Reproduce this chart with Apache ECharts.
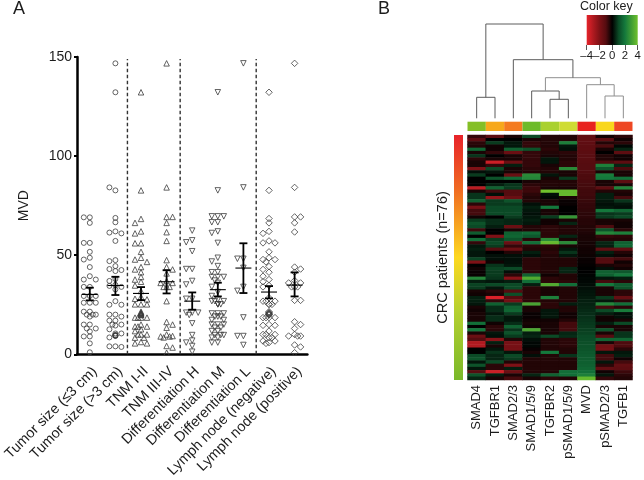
<!DOCTYPE html>
<html>
<head>
<meta charset="utf-8">
<style>html,body{margin:0;padding:0;background:#fff}#c{width:644px;height:480px}</style>
<script src="https://cdn.jsdelivr.net/npm/echarts@6/dist/echarts.min.js"></script>
</head>
<body>
<div id="c"></div>
<script>
const groupLabels = ['Tumor size (≤3 cm)','Tumor size (>3 cm)','TNM I-II','TNM III-IV','Differentiation H','Differentiation M','Differentiation L','Lymph node (negative)','Lymph node (positive)'];
const tumorSmall = [69.1,69.1,66.3,56.2,56.2,51.7,48.7,47.8,44,39.4,37.7,37.7,34,34,29.4,29.4,29.4,26,26,26,21.5,21.5,20,20,20,19,15,15,13,13,11.5,9,9,5.5,1];
const tumorLarge = [146.8,132.2,82.7,84.2,68.8,66.6,62,61.4,61,57.2,47.5,47,44.5,43,42.5,42,38,37,35,34.5,34,32.7,26.8,25,25,20,20,19,17,17,15,15,14.5,12.6,10.5,10.5,8.5,4,4,3.7];
const tnmEarly = [132.2,82.7,68.3,66.3,62,61,56,56,51.7,48.7,47.8,46.6,44,42.8,41.4,39,37.7,36.6,34.7,31.9,29,28,27.7,25.2,25.2,25.2,18.5,18.5,18.5,18.5,15,14,14,14,12.6,11.7,10,10,10,8.4,8.4,6.2,5.5,5.5];
const tnmLate = [146.8,84.2,69.3,69.3,66.3,61.6,57.2,47.5,44,42.8,40.8,37,36,36,34,34,34,26.8,16.3,15,13.4,10,9.2,9,9,8.5,4.2,3.4,0.8];
const diffHigh = [62.4,57.5,56.5,52,43,43,37,35.2,28,28,21,21,21,19.8,15.6,9.7,6.9,5.9,4.2,1.3];
const diffMid = [132.2,82.7,69.6,69.6,69.6,66.6,66.6,62,61.2,56.2,48.7,46.8,44.5,41.4,41.4,39,39,39,37.2,36,34,31.4,29.4,27.5,26.8,26.8,26.8,25.2,25.2,25.2,25.2,20.6,20.6,20.6,19,19,19,17.3,17.3,15,15,15,13.4,13.4,11.7,11.7,9.7,9.7,9.7,8.4,8.4,5.9,5.9];
const diffLow = [146.8,84.2,48.2,48.2,43.6,34,32,18.6,9.2,9.2,4.7];
const nodeNeg = [132.2,82.7,68.5,66.3,62,61,57.2,56.2,56.2,51.7,48.7,47.8,47.8,46.6,44.3,42.8,41.4,39.4,37.7,36.6,34.7,34,28.5,26.8,26.8,26.8,25.2,25.2,25.2,18.5,18.5,18.5,18.5,15,14.6,14.6,11.7,10,10,10,8.4,8.4,6.7,6.7,5.9,5.5];
const nodePos = [146.8,84.2,69.3,69.3,66.3,61.7,44,43,41.4,37.2,36,36,34,34,34,27.2,27.2,16.4,15,13,10,9.2,9.2,9.2,4.7,3.7,0.8];
const tiedValues = [[],[9.5,9.5,9.8,9.2,9.4],[21.5,21,20.8,20.5,20.2,20,19.8],[],[],[],[],[21.5,21,20.8,20.5,20.2,20,19.8],[]];
const meanValues = [30.2,34.7,30.7,36.6,26.8,32.6,43.5,31.4,34.9];
const errLow = [27.2,29.9,27.3,30.7,22.5,29.2,30.9,28.2,29.2];
const errHigh = [33.6,39.1,33.9,42.4,31.2,36.1,56,34.4,41.3];
const dividers = [1.47,3.53,6.5];

const markers = ['circle','circle','triangle','triangle','triangle','triangle','triangle','diamond','diamond'];
const markerTurn = [0,0,0,0,180,180,180,0,0];
const swarmSide = [-1,-1,-1,1,-1,-1,-1,-1,1];

const geneLabels = ['SMAD4','TGFBR1','SMAD2/3','SMAD1/5/9','TGFBR2','pSMAD1/5/9','MVD','pSMAD2/3','TGFB1'];
const geneBarColors = ['#84bf26','#f7a81b','#f47b20','#6dbb2a','#a9d12f','#cfdc33','#e8231f','#f9d71c','#ee4723'];
const SMAD4 = [-.6,-1.2,-.5,-.4,1.6,-.3,.7,-.5,-.3,-.3,-2,.2,.8,0,0,0,-3.2,-.3,.7,.7,1.5,-.5,-1.8,-.8,-.8,-.2,.8,1.2,1,-.7,1.4,0,1.8,-.6,.3,.4,.3,.3,.9,-2,0,-.2,-.1,-.1,2.4,.4,.9,.8,-.3,-.2,.4,.4,.3,-.3,-.2,-.3,-.3,-.3,1.8,0,2,-.3,-1.5,-1,-3,-3,0,0,1,1.2,.3,1.2,.3,-1,1.2,.5];
const TGFBR1 = [-1.2,0,.8,-.2,-.2,-.6,0,-.3,-3.5,-.6,1,.3,0,1.2,0,.4,1.5,-.8,.2,-2.4,.8,.8,1,1,1,0,.6,.6,.4,0,0,-2,.8,1,.8,-1,0,.2,.2,-.2,.7,.9,.8,.8,.7,.3,1,.3,-.5,-.3,-3.8,-.6,1.5,.6,.6,.3,.6,.6,-.2,-.5,-.5,.3,.2,-2.2,.4,-.3,.3,.7,.5,.5,1,-.5,-.5,-3.5,.4,-.3];
const SMAD23 = [-.3,0,.3,.3,1.5,-1.5,-.3,-.3,-1.5,.4,-.3,-.3,-1.5,1.7,0,.7,.8,-1,-1,-1.5,1.2,.8,1,1,1,.8,.5,.5,-1.5,-.3,1.5,1.6,1.2,-1.5,-.6,-1.5,-.4,.2,.2,.2,.3,1,.2,-.5,-2.2,.4,1,1,-1,1.1,-1,-1.7,.8,1.5,1.6,.8,.3,.3,.6,1.5,.7,1.2,.8,-.4,-1.8,-1.8,-1.8,.3,1,.8,-.4,-2,.4,-1.5,-.3,-.8];
const SMAD159 = [1,-.3,-.6,-.6,1.2,-.6,-.6,-.6,-.6,-.6,-.5,-.4,2.5,2.4,-.3,-.5,-.7,-.7,-.5,-.4,-.4,.2,.4,.3,.2,.3,.4,.3,-.4,-.4,1.7,1.3,-.5,1.8,-.5,-.4,.4,.2,-.5,-.5,-.5,-.5,-.5,1.5,3.4,1.8,.4,-.5,-.5,-.5,-.5,-.5,3.2,-.3,-.3,-.1,-.1,-.2,-.3,-.2,3.3,.4,.5,.2,.1,.1,-.1,-.3,.2,-.4,-.4,-.4,-.4,-.4,.5,-.3];
const TGFBR2 = [-.4,-.4,-.4,-.4,-.5,-.4,-.3,.3,.3,-.3,-.4,-.4,.3,-.3,-.4,-.4,-.3,4,.2,.1,-.3,-.3,2,-.3,-.3,.8,-.2,-.2,-.5,-.5,-.5,-.5,2.5,3.8,-.5,-.4,-.5,-.4,-.4,-.4,-.4,-.4,-.4,-.2,-.5,-.5,3.4,-.3,-.3,-.3,2.2,-.4,-.5,-.5,.3,.3,.3,-.2,-.3,-.3,-.3,-.3,1,-.4,-.4,-.4,-.4,2,-.4,-.4,-.4,-.4,-.4,-.4,1.5,-.5];
const pSMAD159 = [-.4,-.4,2.2,.3,.2,-.5,-.4,-.4,-.5,-.5,2.5,-.3,-.3,.8,-.4,-.4,-.3,3.8,3.8,-.3,-.1,-.1,0,0,0,2.8,-.3,.5,-.4,-.4,-.4,.5,-.3,2.5,-.3,.3,.7,.3,-.4,-.4,-.4,.5,.5,-.4,-.4,-.5,1.8,-.4,-.4,-.4,-.4,-.4,.4,-.4,-.4,-.2,-.2,-.4,-.8,-.8,-.8,.5,.6,-.5,-.5,-.5,-.4,-.4,.7,-.4,-.4,-.4,-.4,1.8,1.8,-.4];
const MVD = [-1.3,-1.3,-1.25,-1.2,-1.2,-1.15,-1.1,-1.1,-1.05,-1,-1,-.95,-.9,-.9,-.85,-.8,-.8,-.75,-.75,-.7,-.65,-.6,-.6,-.55,-.5,-.5,-.45,-.45,-.4,-.4,-.35,-.3,-.3,-.25,-.25,-.2,-.2,-.15,-.1,-.1,-.05,0,0,.05,.1,.1,.15,.2,.25,.3,.35,.4,.45,.5,.55,.6,.65,.7,.75,.8,.85,.9,1,1.05,1.1,1.15,1.2,1.3,1.35,1.4,1.45,1.5,1.6,1.8,2.2,3.8];
const pSMAD23 = [-.2,-1.2,-.4,-.9,-.3,0,-.4,-.4,-.9,2.2,1.2,-.3,2.1,2,-.3,-.3,-1.2,-.4,.4,.4,.3,.2,.3,2,.7,.8,-.3,-.3,-.9,1.2,2.4,-.6,-.4,.5,.4,-1.3,.4,.2,-1,-1,-.3,.2,1.5,1.5,.3,-.8,2,-.3,-.3,-.3,.8,.3,2.4,-.8,1,.4,-.2,-.2,.4,-.3,1.2,-.3,-1,1.6,-.3,-1.7,-1.8,.3,-.8,-.8,.3,-.5,-1.3,-.2,.3,-.6];
const TGFB1 = [-.5,-.2,-.5,.1,.5,-1.2,-.2,-.2,-1.2,.5,-.9,-.3,-.3,1.8,-1.2,-.3,2.3,-.4,-.3,-.8,.7,.3,.2,1.6,.8,1,-.3,-.2,-.2,-.5,2.2,-.5,-.4,1.5,1.6,-1.3,-.4,-.2,-.8,-.2,-.4,-.2,1.3,2,.4,-.5,1.4,1.2,-.5,-.5,-1.4,-.5,1.8,-.5,2.1,.2,.2,-.3,1,-.3,-.3,.7,.7,1.6,-.9,-.9,-.5,.3,.4,-.2,-.8,-1.3,-1.2,-.7,-.5,-.4];
const patientOrder = MVD.map((_, i) => i);

const treeMerges = [[0,1,21],[4,5,19],[3,'n1',27.3],[7,8,22.3],[6,'n3',33.6],['n2','n4',40.6],[2,'n5',58.6],['n0','n6',94.3]];
const paleMerges = [3,4,5];
const heatColors = ['#e6232b','#b01a20','#7e1116','#550c10','#000000','#0b4a26','#14783c','#3f9c34','#6fc02d'];
const patientBarStops = [[0,'#e8232a'],[0.22,'#f06a22'],[0.5,'#fdd820'],[0.72,'#b5d030'],[1,'#7ab82a']];

const groups = [tumorSmall,tumorLarge,tnmEarly,tnmLate,diffHigh,diffMid,diffLow,nodeNeg,nodePos];
const slotStep = 0.234, touchGap = 2.2;
function swarm(vals, side, g) {
  const placed = [];
  vals.forEach(v => {
    const order = [0, side, -side, side/2, -side/2];
    let s = 0;
    for (const k of order) {
      if (!placed.some(p => p[0] === k && Math.abs(p[1] - v) < touchGap)) { s = k; break; }
    }
    placed.push([s, v]);
  });
  return placed.map(p => [g + p[0] * slotStep, p[1]]);
}
const pointSeries = groups.map((vals, g) => ({
  type: 'scatter', xAxisIndex: 1, yAxisIndex: 0, symbol: markers[g], symbolRotate: markerTurn[g],
  symbolSize: markers[g] === 'diamond' ? 6.5 : markers[g] === 'circle' ? 5 : 5.5,
  itemStyle: { color: 'transparent', borderColor: '#3c3c3c', borderWidth: 0.8, opacity: 1 },
  data: swarm(vals, swarmSide[g], g).concat(tiedValues[g].map(v => [g, v])), silent: true, z: 2
}));

function tree() {
  const segs = [], pos = {}, hts = {};
  const at = k => typeof k === 'number' ? [k, 0] : [pos[k], hts[k]];
  treeMerges.forEach((m, i) => {
    const a = at(m[0]), b = at(m[1]), h = m[2];
    const pale = paleMerges.includes(i) ? 1 : 0;
    segs.push([a[0], a[1], a[0], h, pale], [a[0], h, b[0], h, pale], [b[0], h, b[0], b[1], pale]);
    pos['n' + i] = (a[0] + b[0]) / 2; hts['n' + i] = h;
  });
  return segs;
}
const heatData = [];
[SMAD4,TGFBR1,SMAD23,SMAD159,TGFBR2,pSMAD159,MVD,pSMAD23,TGFB1].forEach((col, c) => col.forEach((v, r) => heatData.push([c, r, v])));

const ink = '#1c1c1c', fontName = '"Liberation Sans", Arial, sans-serif';
const blank = { show: false };

const option = {
  animation: false,
  backgroundColor: '#fff',
  textStyle: { fontFamily: fontName, color: ink },
  grid: [
    { left: 77, top: 57, width: 230.4, height: 298 },
    { left: 467.5, top: 23.3, width: 165, height: 95 },
    { left: 467.5, top: 121.7, width: 165, height: 9.3 },
    { left: 454, top: 135, width: 9, height: 245 },
    { left: 467.5, top: 135, width: 165, height: 245 },
    { left: 586.7, top: 15, width: 51, height: 30 }
  ],
  xAxis: [
    { gridIndex: 0, type: 'category', data: groupLabels,
      axisLine: { lineStyle: { color: '#000', width: 2.5 } },
      axisTick: { alignWithLabel: true, length: 3, lineStyle: { color: '#000', width: 2 } },
      axisLabel: { rotate: 45, interval: 0, fontSize: 14.4, color: ink, margin: 10, verticalAlign: 'top', fontFamily: fontName } },
    { gridIndex: 0, type: 'value', min: -0.5, max: 8.5, show: false, splitLine: blank },
    { gridIndex: 1, type: 'value', min: -0.5, max: 8.5, show: false, splitLine: blank },
    { gridIndex: 2, type: 'category', data: geneLabels, show: false },
    { gridIndex: 3, type: 'value', min: 0, max: 1, show: false, splitLine: blank },
    { gridIndex: 4, type: 'category', data: geneLabels, axisLine: blank, axisTick: blank, splitLine: blank,
      axisLabel: { rotate: 90, interval: 0, fontSize: 13, color: ink, margin: 5, fontFamily: fontName } },
    { gridIndex: 5, type: 'value', min: -4, max: 4, interval: 2, splitLine: blank, axisLine: blank,
      axisTick: { show: true, length: 5, lineStyle: { color: '#555', width: 1 } },
      axisLabel: { fontSize: 11.4, color: ink, margin: 5, fontFamily: fontName,
        formatter: v => String(v).replace('-', '\u2013') } }
  ],
  yAxis: [
    { gridIndex: 0, type: 'value', min: 0, max: 150, interval: 50, splitLine: blank, name: 'MVD', nameLocation: 'middle', nameGap: 46,
      nameTextStyle: { fontSize: 14, color: ink, fontFamily: fontName },
      axisLine: { show: true, onZero: false, lineStyle: { color: '#000', width: 2.5 } },
      axisTick: { show: true, length: 3, lineStyle: { color: '#000', width: 2 } },
      axisLabel: { fontSize: 14, color: ink, margin: 5, fontFamily: fontName } },
    { gridIndex: 1, type: 'value', min: 0, max: 95, show: false, splitLine: blank },
    { gridIndex: 2, type: 'value', min: 0, max: 1, show: false, splitLine: blank },
    { gridIndex: 3, type: 'value', min: 0, max: 1, splitLine: blank, axisLine: blank, axisTick: blank,
      axisLabel: blank, name: 'CRC patients (n=76)', nameLocation: 'middle', nameGap: 4,
      nameTextStyle: { fontSize: 14.5, color: ink, fontFamily: fontName } },
    { gridIndex: 4, type: 'category', inverse: true, data: patientOrder, show: false },
    { gridIndex: 5, type: 'value', min: 0, max: 1, show: false, splitLine: blank }
  ],
  visualMap: [{ type: 'continuous', show: false, min: -4, max: 4, dimension: 2, seriesIndex: 15, inRange: { color: heatColors } }],
  graphic: [
    { type: 'text', left: 13, top: 0, style: { text: 'A', fontSize: 18, fontFamily: fontName, fill: ink } },
    { type: 'text', left: 378, top: 0, style: { text: 'B', fontSize: 18, fontFamily: fontName, fill: ink } },
    { type: 'text', left: 580, top: 0, style: { text: 'Color key', fontSize: 12.5, fontFamily: fontName, fill: ink } }
  ],
  series: [
    ...pointSeries,                                   // 0-8
    { type: 'custom', xAxisIndex: 1, yAxisIndex: 0, z: 1, silent: true, data: dividers.map(d => [d]), // 9
      renderItem: (p, api) => {
        const a = api.coord([api.value(0), 0]), b = api.coord([api.value(0), 150]);
        return { type: 'line', shape: { x1: a[0], y1: a[1], x2: b[0], y2: b[1] + 2 },
          style: { stroke: '#333', lineWidth: 1.4, lineDash: [3.5, 2.5] } };
      } },
    { type: 'custom', xAxisIndex: 1, yAxisIndex: 0, z: 3, silent: true, // 10
      data: meanValues.map((m, i) => [i, m, errLow[i], errHigh[i]]),
      renderItem: (p, api) => {
        const g = api.value(0), c = api.coord([g, api.value(1)]), l = api.coord([g, api.value(2)]), h = api.coord([g, api.value(3)]);
        const heavy = { stroke: '#000', lineWidth: 1.8 };
        const line = (x1, y1, x2, y2, style) => ({ type: 'line', shape: { x1, y1, x2, y2 }, style });
        return { type: 'group', children: [
          line(c[0], l[1], c[0], h[1], heavy),
          line(c[0] - 4, l[1], c[0] + 4, l[1], heavy),
          line(c[0] - 4, h[1], c[0] + 4, h[1], heavy),
          line(c[0] - 8, c[1], c[0] + 8, c[1], { stroke: '#000', lineWidth: 1.1 })
        ] };
      } },
    { type: 'custom', xAxisIndex: 2, yAxisIndex: 1, silent: true, data: tree(), // 11
      renderItem: (p, api) => {
        const a = api.coord([api.value(0), api.value(1)]), b = api.coord([api.value(2), api.value(3)]);
        return { type: 'line', shape: { x1: a[0], y1: a[1], x2: b[0], y2: b[1] },
          style: { stroke: api.value(4) ? '#8f8f8f' : '#5c5c5c', lineWidth: 1 } };
      } },
    { type: 'custom', xAxisIndex: 3, yAxisIndex: 2, silent: true, data: geneBarColors.map((_, i) => [i]), // 12
      renderItem: (p, api) => {
        const i = api.value(0), c = api.coord([i, 1]), z = api.size([1, 1]);
        return { type: 'rect', shape: { x: c[0] - z[0] / 2, y: c[1], width: z[0], height: z[1] },
          style: { fill: geneBarColors[i] } };
      } },
    { type: 'custom', xAxisIndex: 4, yAxisIndex: 3, silent: true, data: [[0]], // 13
      renderItem: (p, api) => {
        const a = api.coord([0, 1]), b = api.coord([1, 0]);
        return { type: 'rect', shape: { x: a[0], y: a[1], width: b[0] - a[0], height: b[1] - a[1] },
          style: { fill: new echarts.graphic.LinearGradient(0, 0, 0, 1, patientBarStops.map(s => ({ offset: s[0], color: s[1] }))) } };
      } },
    { type: 'custom', xAxisIndex: 6, yAxisIndex: 5, silent: true, data: [[0]], // 14
      renderItem: (p, api) => {
        const a = api.coord([-4, 1]), b = api.coord([4, 0]);
        return { type: 'rect', shape: { x: a[0], y: a[1], width: b[0] - a[0], height: b[1] - a[1] },
          style: { fill: new echarts.graphic.LinearGradient(0, 0, 1, 0, heatColors.map((c, i) => ({ offset: i / (heatColors.length - 1), color: c }))) } };
      } },
    { type: 'heatmap', xAxisIndex: 5, yAxisIndex: 4, data: heatData, silent: true, progressive: 0, itemStyle: { borderWidth: 0 } } // 15
  ]
};
echarts.init(document.getElementById('c'), null, { renderer: 'canvas' }).setOption(option);
</script>
</body>
</html>
